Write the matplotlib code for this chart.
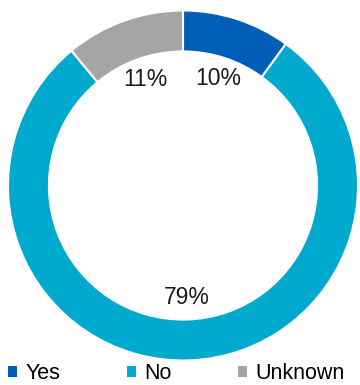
import matplotlib.pyplot as plt

plt.rcParams['font.family'] = ['Liberation Sans', 'DejaVu Sans']

# survey answers
labels = ['Yes', 'No', 'Unknown']
shares = [10, 79, 11]
colors = ['#005EB8', '#00A9CE', '#A5A5A5']

fig = plt.figure(figsize=(3.6, 3.85), dpi=100)
ax = fig.add_axes([8/360, 24.5/385, 350/360, 350/385])

wedges, texts = ax.pie(shares, colors=colors, startangle=90, counterclock=False,
                       labels=[str(s) + '%' for s in shares], labeldistance=0.643,
                       radius=1.0,
                       wedgeprops=dict(width=0.234, edgecolor='white', linewidth=1.5),
                       textprops=dict(fontsize=16.5, color='#1a1a1a', ha='center', va='center'))
ax.set_aspect('equal')
ax.set_xlim(-1, 1)
ax.set_ylim(-1, 1)
ax.axis('off')

leg = fig.legend(wedges, labels, loc='lower center', bbox_to_anchor=(0.49, -0.048), ncol=3,
                 frameon=False, fontsize=15.5, handlelength=0.42, handleheight=0.42,
                 handletextpad=0.38, columnspacing=3.1)
for h in leg.legend_handles:
    h.set_edgecolor('none')

fig.savefig('out.png', dpi=100)
